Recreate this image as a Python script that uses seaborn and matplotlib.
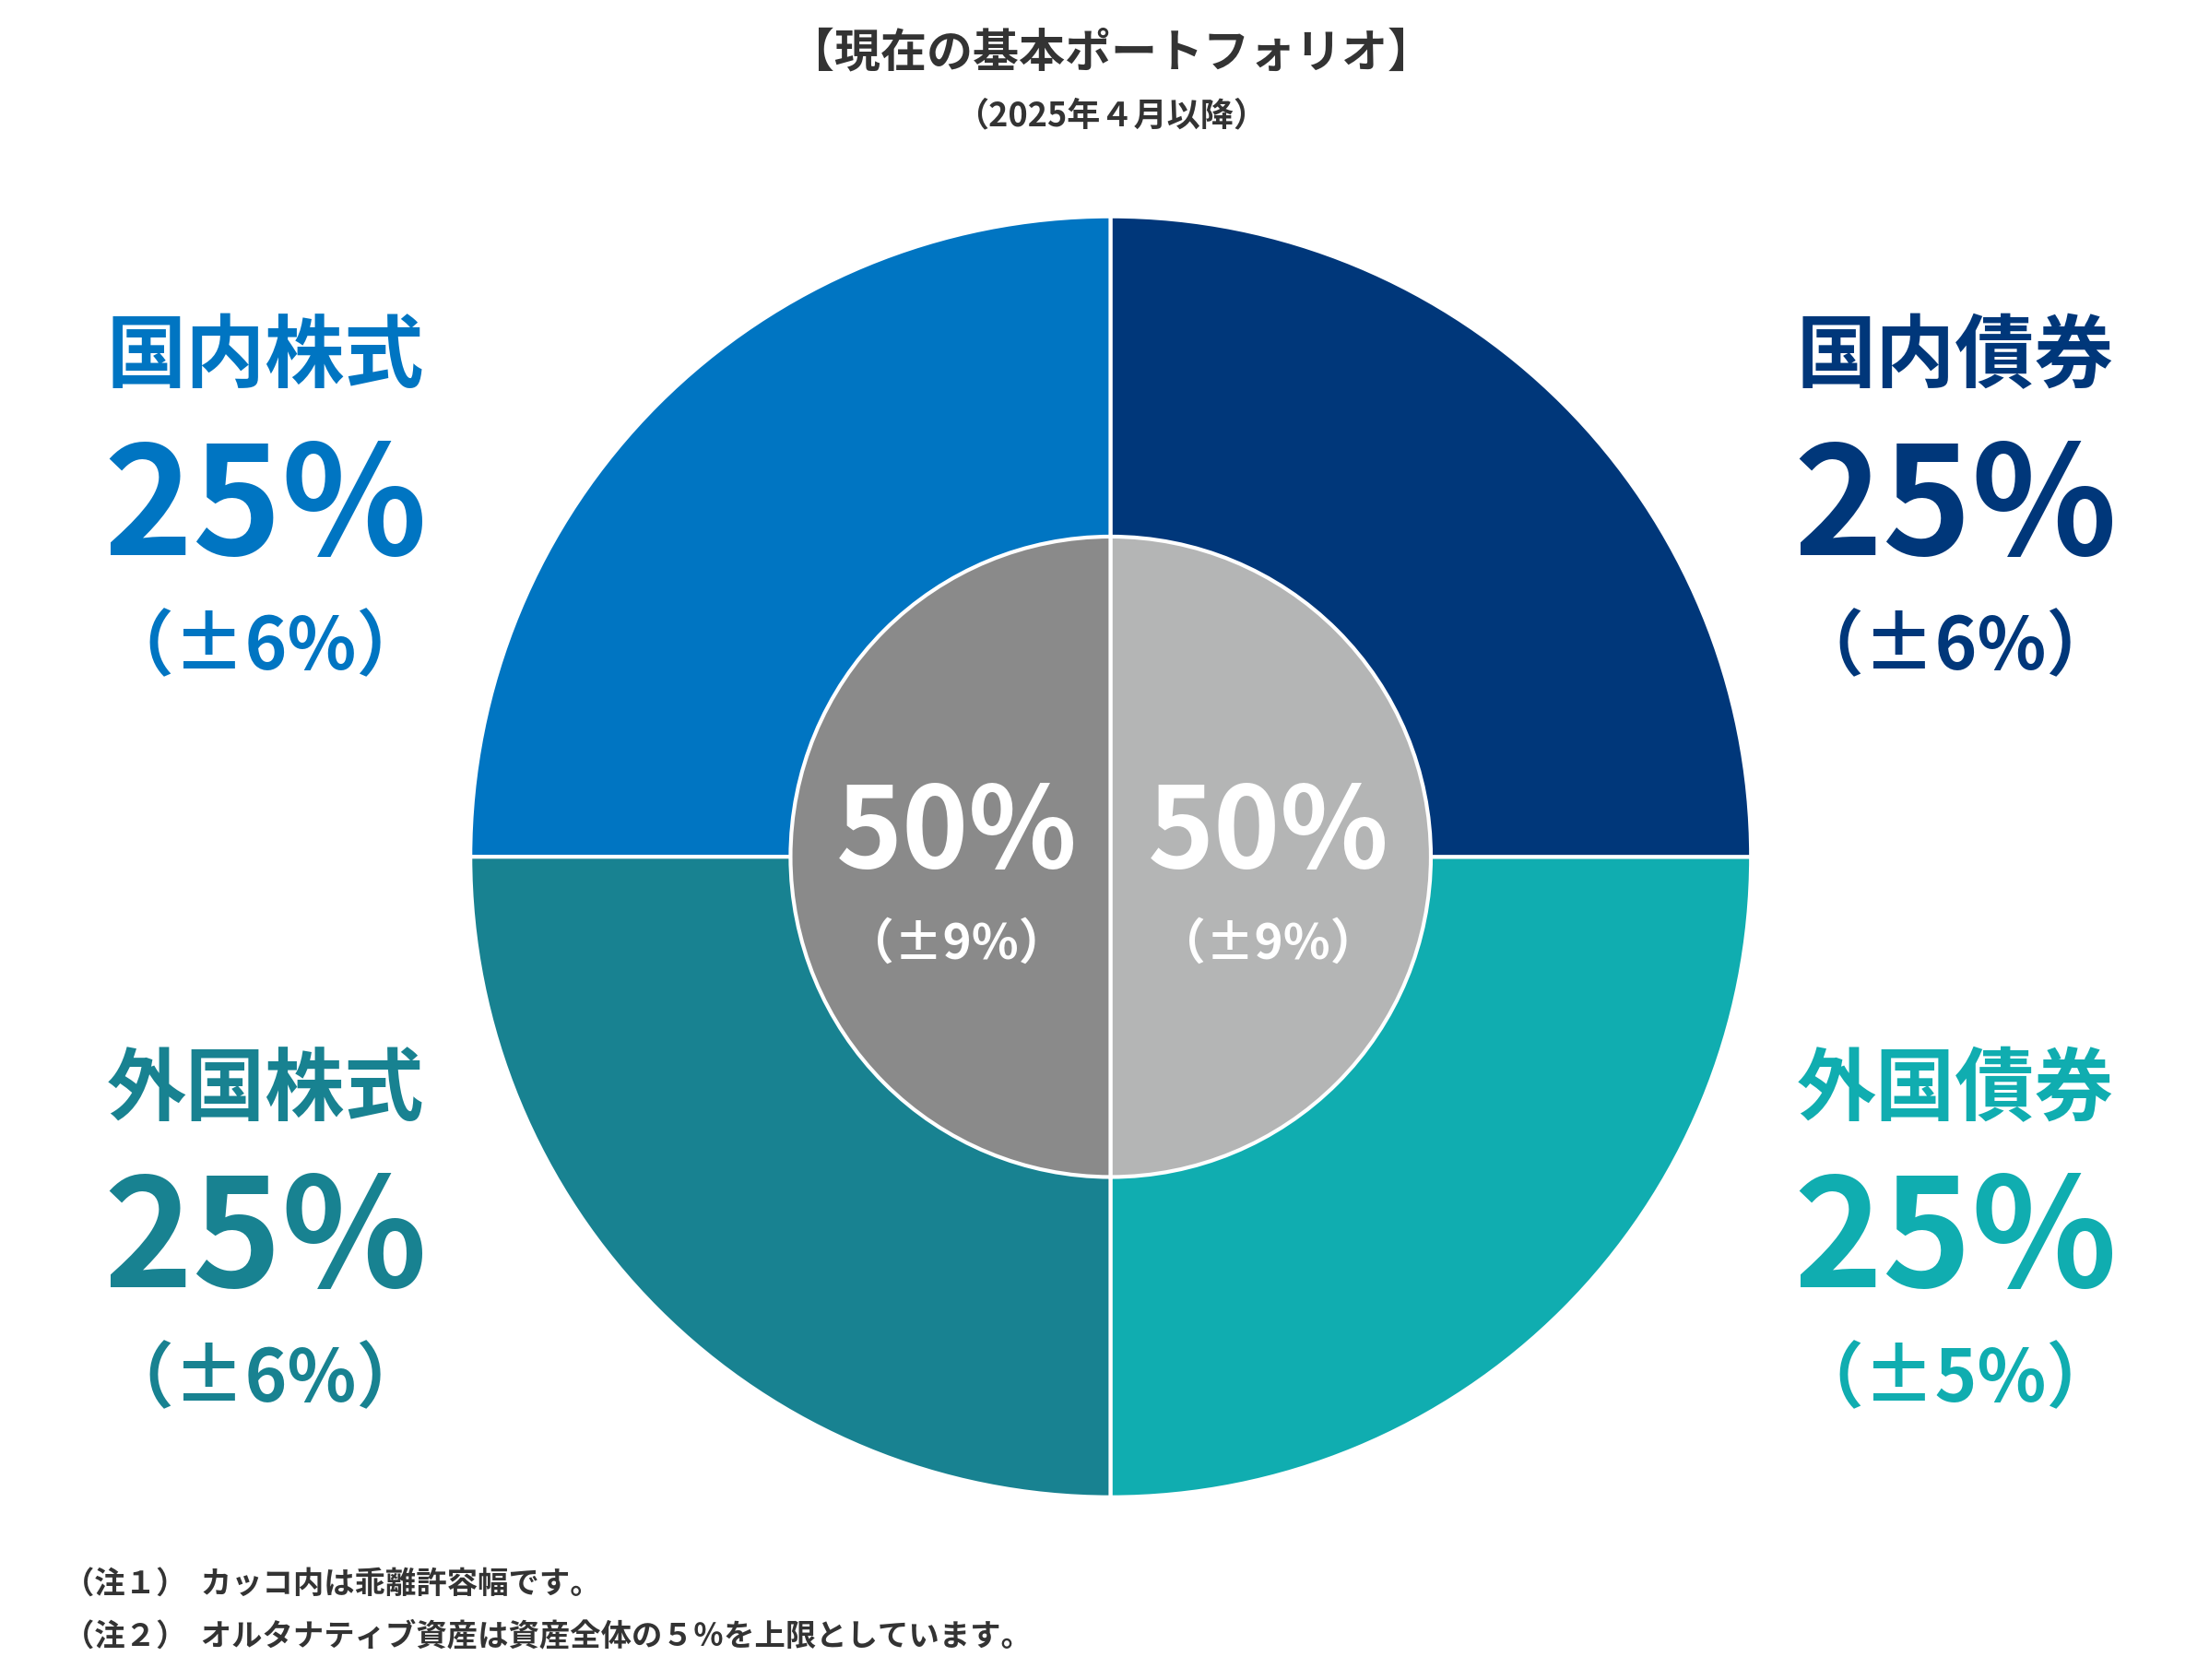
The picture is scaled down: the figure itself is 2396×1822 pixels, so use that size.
import matplotlib
matplotlib.use("Agg")
import matplotlib.pyplot as plt
import seaborn as sns

sns.set_theme(style="white")
plt.rcParams['font.family'] = ['Noto Sans CJK JP', 'DejaVu Sans']

outer_labels = ["国内株式", "外国株式", "外国債券", "国内債券"]
outer_values = [25, 25, 25, 25]
outer_ranges = ["（±6%）", "（±6%）", "（±5%）", "（±6%）"]
outer_colors = ["#0075C2", "#188291", "#10ADB0", "#00377A"]
inner_values = [50, 50]
inner_ranges = ["（±9%）", "（±9%）"]
inner_colors = ["#8A8A8A", "#B4B5B5"]

fig = plt.figure(figsize=(23.96, 18.22), dpi=100)
ax = fig.add_axes([0.210, 0.105, 0.5856, 0.77])
ax.pie(outer_values, colors=outer_colors, startangle=90, counterclock=True,
       radius=1.0, wedgeprops=dict(edgecolor="white", linewidth=3))
ax.pie(inner_values, colors=inner_colors, startangle=90, counterclock=True,
       radius=0.5, wedgeprops=dict(edgecolor="white", linewidth=3))
ax.set_aspect("equal")
ax.set_xlim(-1.01, 1.01); ax.set_ylim(-1.01, 1.01)

pos = [(0.12, 0.787), (0.12, 0.351), (0.885, 0.351), (0.885, 0.787)]
for (x, y), lab, v, r, c in zip(pos, outer_labels, outer_values, outer_ranges, outer_colors):
    fig.text(x, y, lab, ha="center", va="center", fontsize=62, fontweight="bold", color=c)
    fig.text(x, y - 0.091, f"{v}%", ha="center", va="center", fontsize=118, fontweight="bold", color=c)
    fig.text(x, y - 0.173, r, ha="center", va="center", fontsize=56, fontweight="bold", color=c)

for x, v, r in zip([0.433, 0.574], inner_values, inner_ranges):
    fig.text(x, 0.503, f"{v}%", ha="center", va="center", fontsize=88, fontweight="bold", color="white")
    fig.text(x, 0.438, r, ha="center", va="center", fontsize=38, fontweight="bold", color="white")

fig.text(0.503, 0.968, "【現在の基本ポートフォリオ】", ha="center", va="center", fontsize=36, fontweight="bold", color="#333333")
fig.text(0.503, 0.931, "（2025年４月以降）", ha="center", va="center", fontsize=26, fontweight="bold", color="#333333")
fig.text(0.029, 0.057, "（注１）  カッコ内は乖離許容幅です。", ha="left", va="center", fontsize=24, fontweight="bold", color="#333333")
fig.text(0.029, 0.026, "（注２）  オルタナティブ資産は資産全体の５％を上限としています。", ha="left", va="center", fontsize=24, fontweight="bold", color="#333333")

fig.savefig("out.png", dpi=100, facecolor="white")
